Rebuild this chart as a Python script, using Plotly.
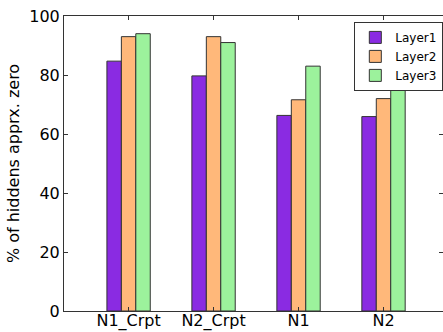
import plotly.graph_objects as go

categories = ["N1_Crpt", "N2_Crpt", "N1", "N2"]
layer1 = [84.7, 79.7, 66.3, 65.9]
layer2 = [93.0, 93.0, 71.6, 72.0]
layer3 = [94.0, 91.0, 83.0, 77.8]
series_names = ["Layer1", "Layer2", "Layer3"]
colors = ["#8a2be2", "#ffb87a", "#9cf29c"]

x_idx = list(range(len(categories)))
fig = go.Figure()
for name, vals, col in zip(series_names, [layer1, layer2, layer3], colors):
    fig.add_trace(go.Bar(
        x=x_idx, y=vals, name=name,
        marker=dict(color=col, line=dict(color="#333333", width=1)),
    ))
# invisible trace to carry the right-side tick axis
fig.add_trace(go.Scatter(x=[0], y=[0], yaxis="y2", mode="markers",
                         marker=dict(opacity=0), showlegend=False, hoverinfo="skip"))

font_family = "DejaVu Sans"
fig.update_layout(
    width=443, height=332,
    margin=dict(l=64, r=0, t=16, b=21, autoexpand=False),
    paper_bgcolor="white", plot_bgcolor="white",
    barmode="group", bargap=0.49, bargroupgap=0,
    font=dict(family=font_family, color="black", size=16),
    xaxis=dict(
        tickmode="array", tickvals=x_idx, ticktext=categories,
        range=[-0.76, 3.70], showgrid=False, zeroline=False,
        showline=True, linecolor="#333333", linewidth=1, mirror="ticks",
        ticks="inside", ticklen=4, tickcolor="#333333",
        tickfont=dict(size=16, family=font_family), ticklabelstandoff=-5,
        automargin=False,
    ),
    yaxis=dict(
        range=[0, 100], dtick=20, showgrid=False, zeroline=False,
        showline=True, linecolor="#333333", linewidth=1, mirror=False,
        ticks="inside", ticklen=4, tickcolor="#333333",
        tickfont=dict(size=16, family=font_family), automargin=False,
        title=dict(text="% of hiddens apprx. zero", font=dict(size=16, family=font_family), standoff=5),
    ),
    yaxis2=dict(
        overlaying="y", side="right", range=[0, 100], dtick=20,
        showgrid=False, zeroline=False, showline=False, automargin=False,
        ticks="inside", ticklen=4, tickcolor="#333333", showticklabels=False,
    ),
    legend=dict(
        x=0.766, y=0.98, xanchor="left", yanchor="top",
        bgcolor="white", bordercolor="#333333", borderwidth=1,
        font=dict(size=12, family=font_family), tracegroupgap=0,
        itemwidth=30,
    ),
    showlegend=True,
)
fig.write_html("out.html", config={"displayModeBar": False})

# remove the browser's default body margin so the figure fills the window
with open("out.html", "r", encoding="utf-8") as f:
    html = f.read()
html = html.replace("<body>", '<body style="margin:0;padding:0;overflow:hidden">', 1)
with open("out.html", "w", encoding="utf-8") as f:
    f.write(html)
